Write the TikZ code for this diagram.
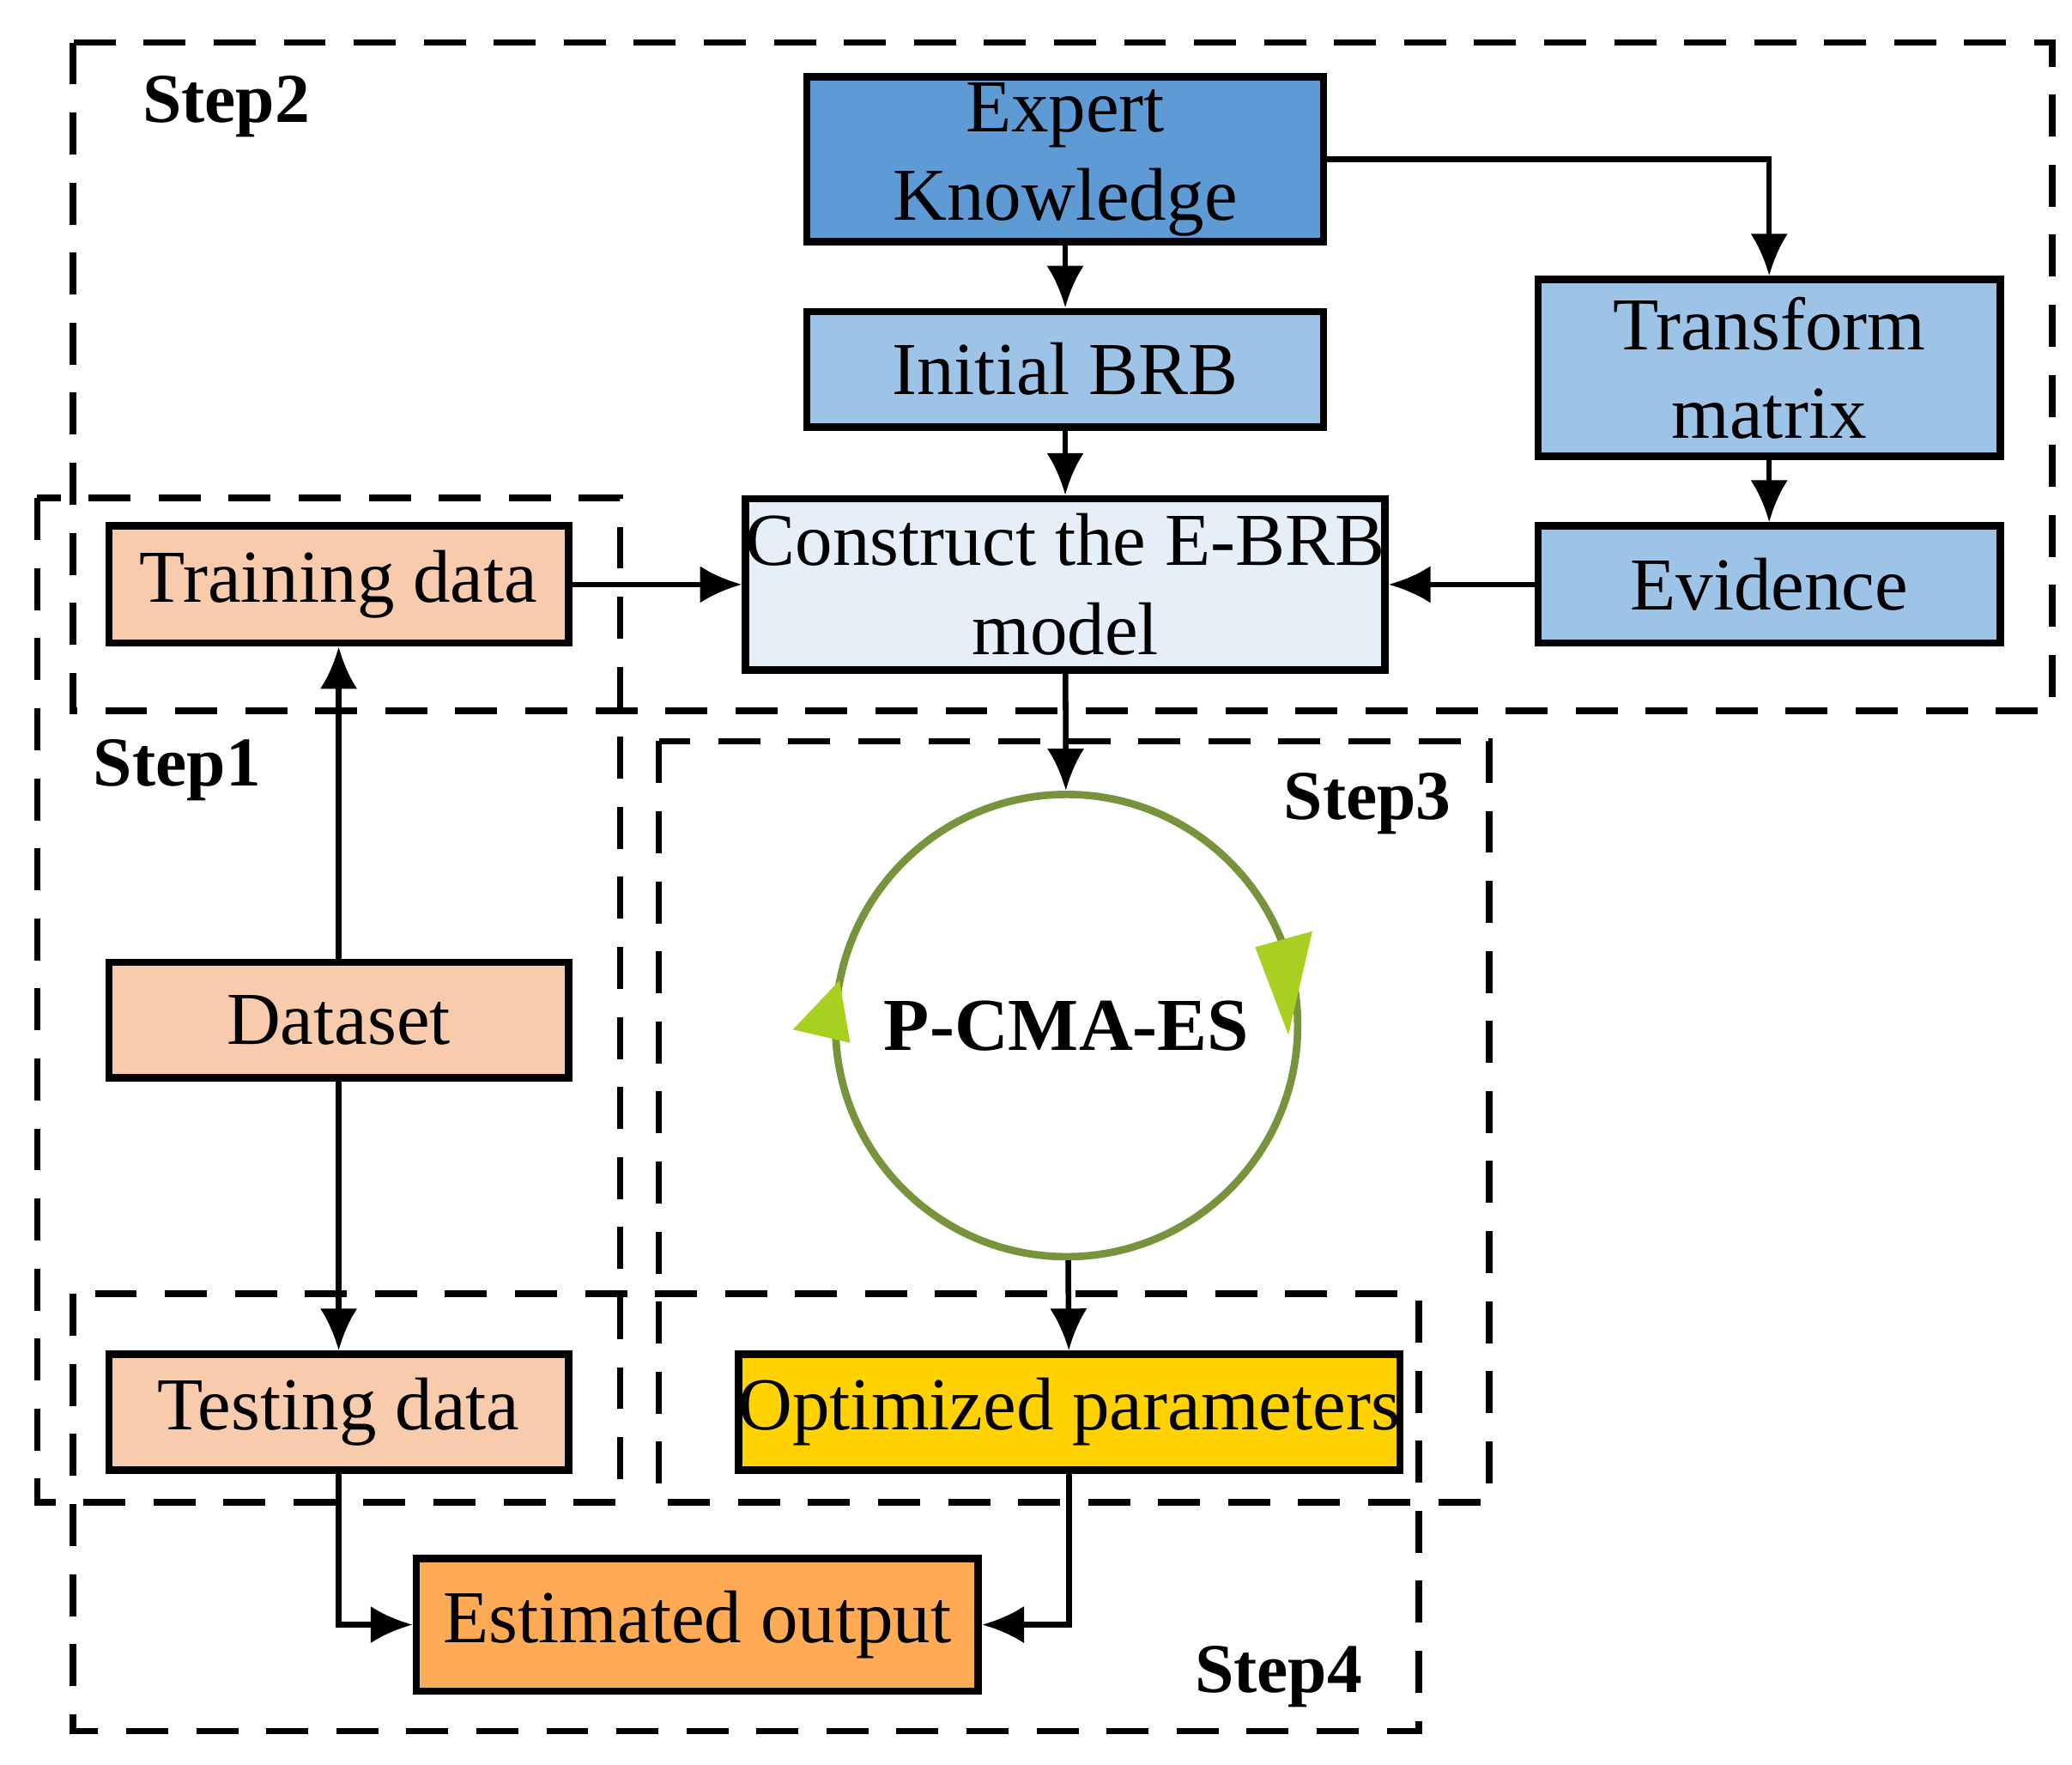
\documentclass[tikz,border=0pt]{standalone}
\usepackage{fontspec}
\setmainfont{Liberation Serif}
\usetikzlibrary{calc}
\usetikzlibrary{arrows.meta}
\definecolor{expblue}{HTML}{5E9AD3}
\definecolor{ltblue}{HTML}{9DC3E6}
\definecolor{paleblue}{HTML}{E6EEF8}
\definecolor{peach}{HTML}{F8CBAD}
\definecolor{gold}{HTML}{FFD200}
\definecolor{orng}{HTML}{FFAA55}
\definecolor{olive}{HTML}{77933C}
\definecolor{lime}{HTML}{A8D020}
\tikzset{
  box/.style={draw, line width=1.6pt, align=center, inner sep=0pt, font=\fontsize{16}{19}\selectfont},
  stepframe/.style={draw, line width=1.4pt, dash pattern=on 9pt off 6pt},
  steplab/.style={font=\fontsize{15}{18}\selectfont\bfseries},
  arr/.style={-{Latex[length=9pt,width=8pt]}, line width=1.2pt}
}
\begin{document}
\begin{tikzpicture}
			\useasboundingbox (0,0) rectangle (15.6,-13.28);
			% dashed step frames
			\draw[stepframe] (0.55,-0.32) rectangle (15.45,-5.35);
			\draw[stepframe] (0.28,-3.75) rectangle (4.67,-11.31);
			\draw[stepframe] (4.96,-5.58) rectangle (11.21,-11.31);
			\draw[stepframe] (0.55,-9.74) rectangle (10.68,-13.03);
			\node[steplab, anchor=west] (s2) at (0.95,-0.80) {Step2};
			\node[steplab, anchor=west] (s1) at (0.58,-5.80) {Step1};
			\node[steplab, anchor=east] (s3) at (11.05,-6.05) {Step3};
			\node[steplab, anchor=east] (s4) at (10.38,-12.62) {Step4};
			% boxes
			\node[box, fill=expblue, minimum width=3.89cm, minimum height=1.24cm] (expert) at (8.02,-1.20) {Expert\\Knowledge};
			\node[box, fill=ltblue, minimum width=3.89cm, minimum height=0.87cm] (initial) at (8.02,-2.78) {Initial BRB};
			\node[box, fill=ltblue, minimum width=3.48cm, minimum height=1.33cm] (transform) at (13.32,-2.77) {Transform\\matrix};
			\node[box, fill=ltblue, minimum width=3.48cm, minimum height=0.88cm] (evidence) at (13.32,-4.40) {Evidence};
			\node[box, fill=paleblue, minimum width=4.41cm, minimum height=1.29cm] (construct) at (8.02,-4.40) {Construct the E-BRB\\model};
			\node[box, fill=peach, minimum width=3.46cm, minimum height=0.88cm] (training) at (2.55,-4.40) {Training data};
			\node[box, fill=peach, minimum width=3.46cm, minimum height=0.87cm] (dataset) at (2.55,-7.68) {Dataset};
			\node[box, fill=peach, minimum width=3.46cm, minimum height=0.87cm] (testing) at (2.55,-10.63) {Testing data};
			\node[box, fill=gold, minimum width=4.78cm, minimum height=0.87cm] (optim) at (8.05,-10.63) {Optimized parameters};
			\node[box, fill=orng, minimum width=4.23cm, minimum height=1.00cm] (estim) at (5.25,-12.23) {Estimated output};
			\node[circle, draw=olive, line width=1.6pt, minimum size=3.48cm, font=\fontsize{16}{19}\selectfont\bfseries] (pcma) at (8.03,-7.72) {P-CMA-ES};
			\fill[lime] ($(pcma.center)+(-2.06,-0.03)$) -- ($(pcma.center)+(-1.63,-0.13)$) -- ($(pcma.center)+(-1.71,0.34)$) -- cycle;
			\fill[lime] ($(pcma.center)+(1.42,0.59)$) -- ($(pcma.center)+(1.85,0.71)$) -- ($(pcma.center)+(1.67,-0.07)$) -- cycle;
			% connectors
			\draw[arr] (expert) -- (initial);
			\draw[arr] (expert.east) -| (transform.north);
			\draw[arr] (transform) -- (evidence);
			\draw[arr] (initial) -- (construct);
			\draw[arr] (evidence) -- (construct);
			\draw[arr] (training) -- (construct);
			\draw[arr] (dataset) -- (training);
			\draw[arr] (dataset) -- (testing);
			\draw[arr] (construct) -- (pcma);
			\draw[arr] (pcma) -- (optim);
			\draw[arr] (testing.south) |- (estim.west);
			\draw[arr] (optim.south) |- (estim.east);
		\end{tikzpicture}
\end{document}
